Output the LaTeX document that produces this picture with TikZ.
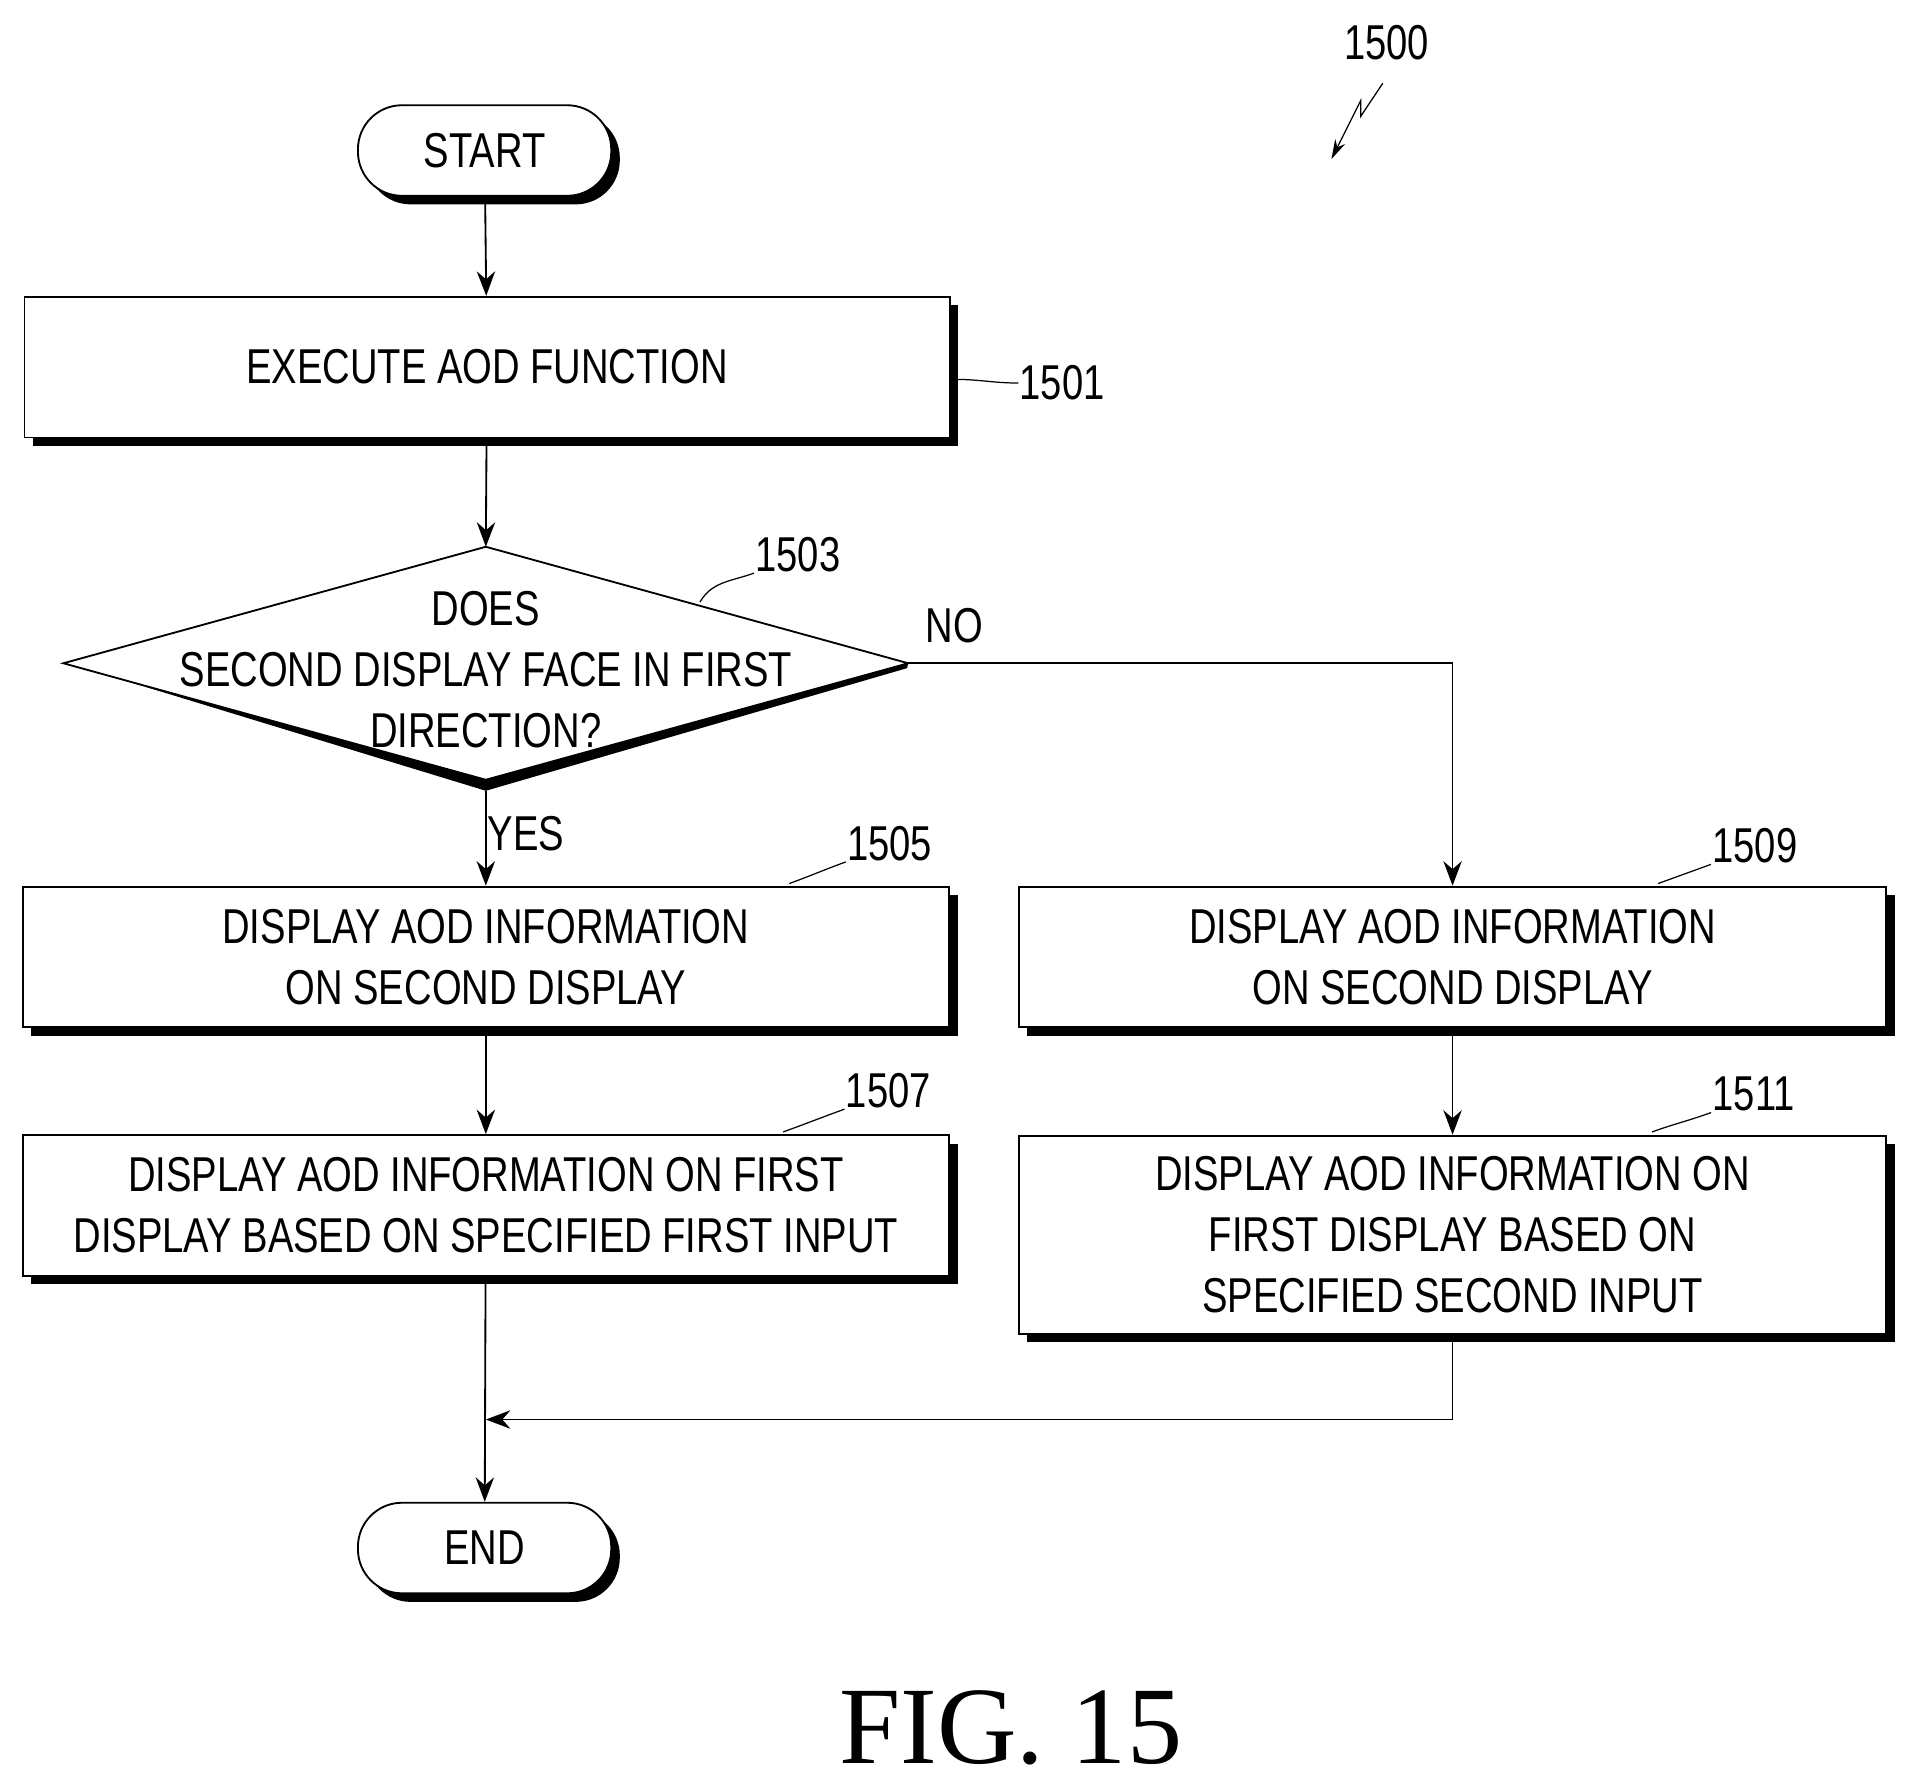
\documentclass[tikz,border=0pt]{standalone}
\usepackage{fontspec}
\setmainfont{Liberation Sans}[FakeStretch=0.78]
\newfontfamily\figfont{Liberation Serif}
\usetikzlibrary{arrows.meta}
\usetikzlibrary{shapes.geometric}
\usetikzlibrary{shadows}
\usetikzlibrary{positioning}

\tikzset{
  flow/.style={draw, line width=1.5pt, fill=white, align=center, inner sep=0pt,
    font=\fontsize{40}{50}\selectfont,
    drop shadow={shadow xshift=7pt, shadow yshift=-7pt, opacity=1, fill=black}},
  box/.style={flow, rectangle, minimum height=115pt},
  term/.style={flow, rounded corners=36pt, minimum width=207pt, minimum height=74pt},
  cond/.style={rectangle, align=center, inner sep=0pt, font=\fontsize{40}{50}\selectfont,
    minimum width=690pt, minimum height=190pt},
  lbl/.style={font=\fontsize{40}{50}\selectfont, inner sep=1pt},
  arr/.style={-{Stealth[length=20pt,width=15pt]}, line width=1.5pt},
  tag/.style={line width=1pt}
}

\begin{document}
\begin{tikzpicture}[x=1pt, y=-1pt]
  \useasboundingbox (0,0) rectangle (1560,1462);
  \node (start) [term] at (396,123) {START};
  \node (b1501) [box, minimum width=756pt] at (398,300) {EXECUTE AOD FUNCTION};
  \node (d1503) [cond] at (397,542) {};
  \fill [black] ([xshift=4pt]d1503.west) -- ([yshift=-9pt]d1503.south) -- ([xshift=-1pt,yshift=-4pt]d1503.east) -- (d1503.east) -- (d1503.south) -- cycle;
  \draw [line width=1.5pt, fill=white] (d1503.west) -- (d1503.north) -- (d1503.east) -- (d1503.south) -- cycle;
  \node [cond, yshift=-5pt] at (d1503) {DOES\\SECOND DISPLAY FACE IN FIRST\\DIRECTION?};
  \node (b1505) [box, minimum width=757pt] at (397,782) {DISPLAY AOD INFORMATION\\ON SECOND DISPLAY};
  \node (b1507) [box, minimum width=757pt] at (397,985) {DISPLAY AOD INFORMATION ON FIRST\\DISPLAY BASED ON SPECIFIED FIRST INPUT};
  \node (b1509) [box, minimum width=709pt] at (1187,782) {DISPLAY AOD INFORMATION\\ON SECOND DISPLAY};
  \node (b1511) [box, minimum width=709pt, minimum height=162pt] at (1187,1009) {DISPLAY AOD INFORMATION ON\\FIRST DISPLAY BASED ON\\SPECIFIED SECOND INPUT};
  \node (end) [term] at (396,1265) {END};
  \coordinate (merge) at (397,1160);

  \draw [arr] (start) -- (b1501);
  \draw [arr] (b1501) -- (d1503.north);
  \draw [arr] ([yshift=-9pt]d1503.south) -- node [lbl, right, pos=0.45] {YES} (b1505);
  \draw [line width=1.5pt, -{Stealth[length=20pt,width=15pt]}] (d1503.east) -| (b1509);
  \node [lbl] at (780,511) {NO};
  \draw [arr] (b1505) -- (b1507);
  \draw [arr] (b1509) -- (b1511);
  \draw [arr] (b1507) -- (end);
  \draw [arr] (b1511.south) |- (merge);

  % reference numerals
  \node (n1500) [lbl] at (1133,35) {1500};
  \node (n1501) [lbl] at (868,313) {1501};
  \node (n1503) [lbl] at (652,453) {1503};
  \node (n1505) [lbl] at (727,689) {1505};
  \node (n1507) [lbl] at (726,891) {1507};
  \node (n1509) [lbl] at (1434,691) {1509};
  \node (n1511) [lbl] at (1433,894) {1511};
  \draw [tag] (n1501.west) to[out=180,in=0] (780,310);
  \draw [tag] (n1503.south west) to[out=200,in=60] (572,492);
  \draw [tag] (n1505.south west) to[out=200,in=20] (645,722);
  \draw [tag] (n1507.south west) to[out=200,in=20] (640,925);
  \draw [tag] (n1509.south west) to[out=200,in=20] (1355,722);
  \draw [tag] (n1511.south west) to[out=200,in=20] (1350,925);
  \draw [tag, -{Stealth[length=16pt,width=9pt]}] (1130,68) -- (1112,95) -- (1112,82) -- (1088,130);

  \node (fig) [font=\figfont\fontsize{90}{100}\selectfont] at (826,1412) {FIG. 15};
\end{tikzpicture}
\end{document}
